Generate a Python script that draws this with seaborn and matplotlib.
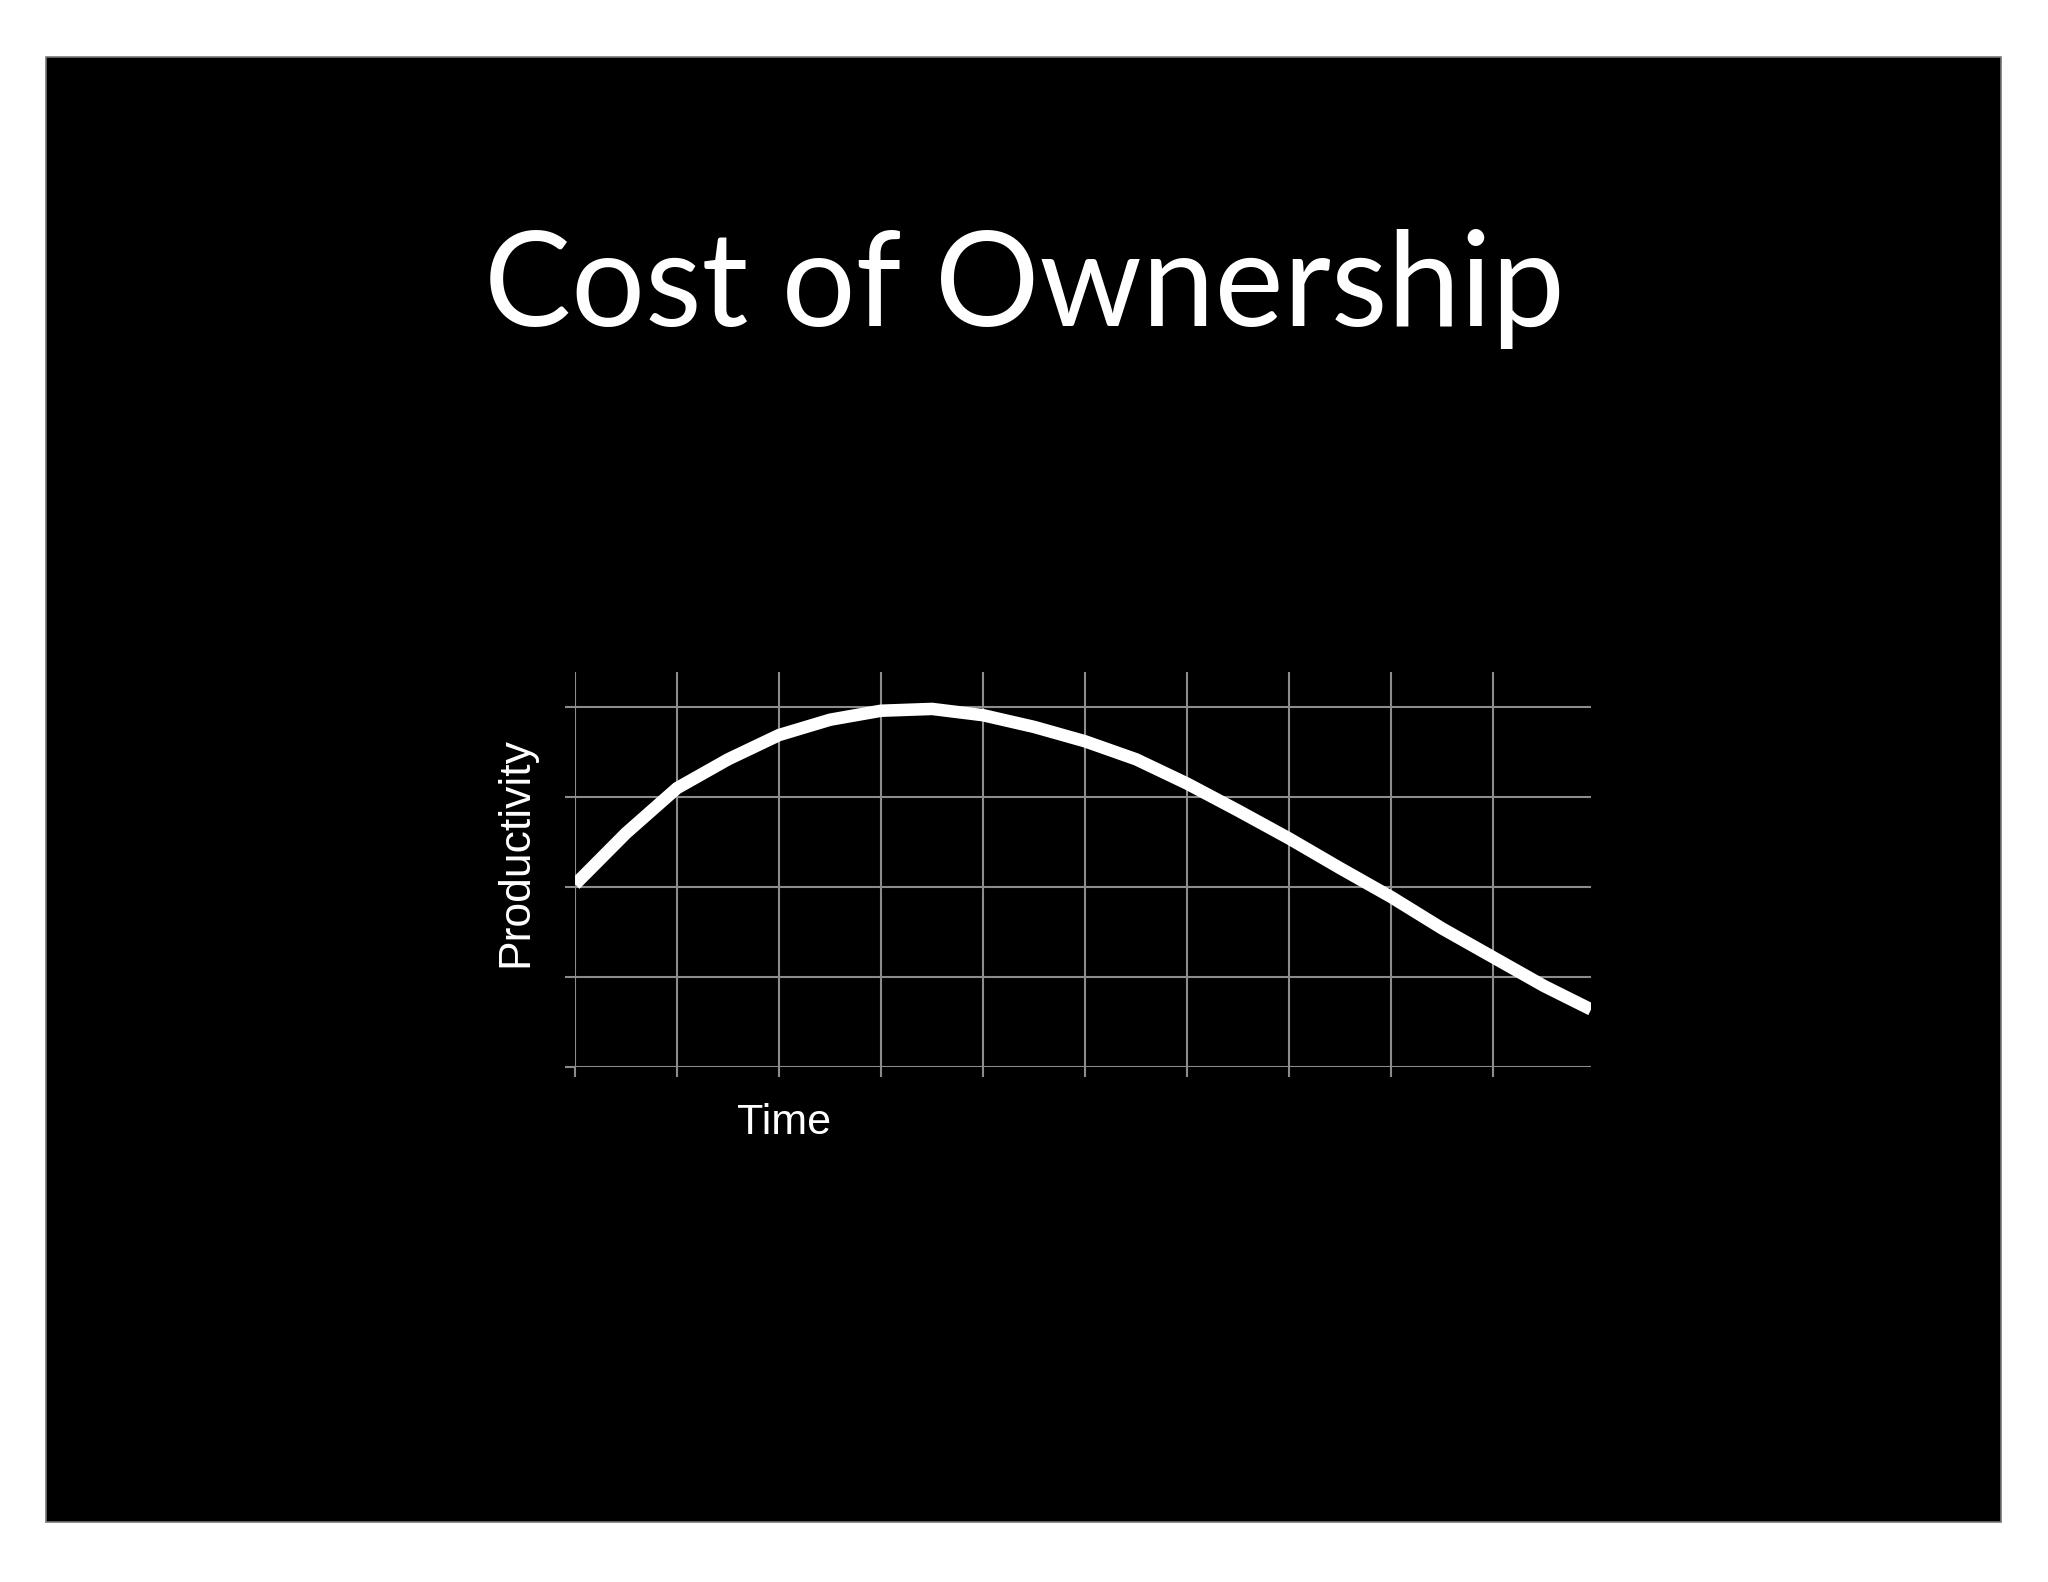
import numpy as np
import pandas as pd
import seaborn as sns
import matplotlib.pyplot as plt
from matplotlib.patches import Rectangle

# values (grid units)
time = [0, 0.5, 1, 1.5, 2, 2.5, 3, 3.5, 4, 4.5, 5, 5.5, 6, 6.5, 7, 7.5, 8, 8.5, 9, 9.5, 9.96]
productivity = [2.03, 2.60, 3.10, 3.42, 3.69, 3.86, 3.96, 3.98, 3.91, 3.78, 3.62, 3.42, 3.15, 2.85, 2.54, 2.21, 1.89, 1.54, 1.22, 0.90, 0.64]
xticks = list(range(10))
yticks = list(range(5))

df = pd.DataFrame({'Time': time, 'Productivity': productivity})

sns.set_theme(style="dark", rc={
    'axes.facecolor': 'black',
    'figure.facecolor': 'white',
    'grid.color': '#8c8c8c',
    'grid.linewidth': 1.5,
    'xtick.color': '#8c8c8c',
    'ytick.color': '#8c8c8c',
})
plt.rcParams['font.family'] = ['Liberation Sans', 'DejaVu Sans']

fig = plt.figure(figsize=(20.48, 15.82), dpi=100)
# black slide with thin grey border
fig.patches.append(Rectangle((0.0225, 0.0379), 0.9546, 0.9261, transform=fig.transFigure,
                             facecolor='black', edgecolor='#777777', linewidth=1.2, zorder=-5))

fig.text(0.5, 0.794, 'Cost of Ownership', color='white', fontsize=94,
         family=['Lato', 'DejaVu Sans'], ha='center', va='baseline')

ax = fig.add_axes([0.2808, 0.3255, 0.4961, 0.2497])
ax.set_zorder(2)
sns.lineplot(data=df, x='Time', y='Productivity', ax=ax, color='white', linewidth=9,
             solid_capstyle='butt', solid_joinstyle='round', zorder=3)

ax.set_xlim(0, 9.96)
ax.set_ylim(0, 4.39)
ax.set_xticks(xticks)
ax.set_yticks(yticks)
ax.set_xticklabels([])
ax.set_yticklabels([])
ax.tick_params(axis='both', which='both', length=7, width=1.5, direction='out',
               bottom=True, left=True, colors='#8c8c8c')
ax.grid(True, color='#8c8c8c', linewidth=1.5)
for s in ax.spines.values():
    s.set_visible(False)

ax.set_xlabel('Time', color='white', fontsize=31)
ax.xaxis.set_label_coords(0.206, -0.142)
ax.xaxis.label.set_va('center')
ax.set_ylabel('Productivity', color='white', fontsize=32)
ax.yaxis.set_label_coords(-0.058, 0.544)
ax.yaxis.label.set_va('center')

fig.savefig('out.png', dpi=100, facecolor='white')
